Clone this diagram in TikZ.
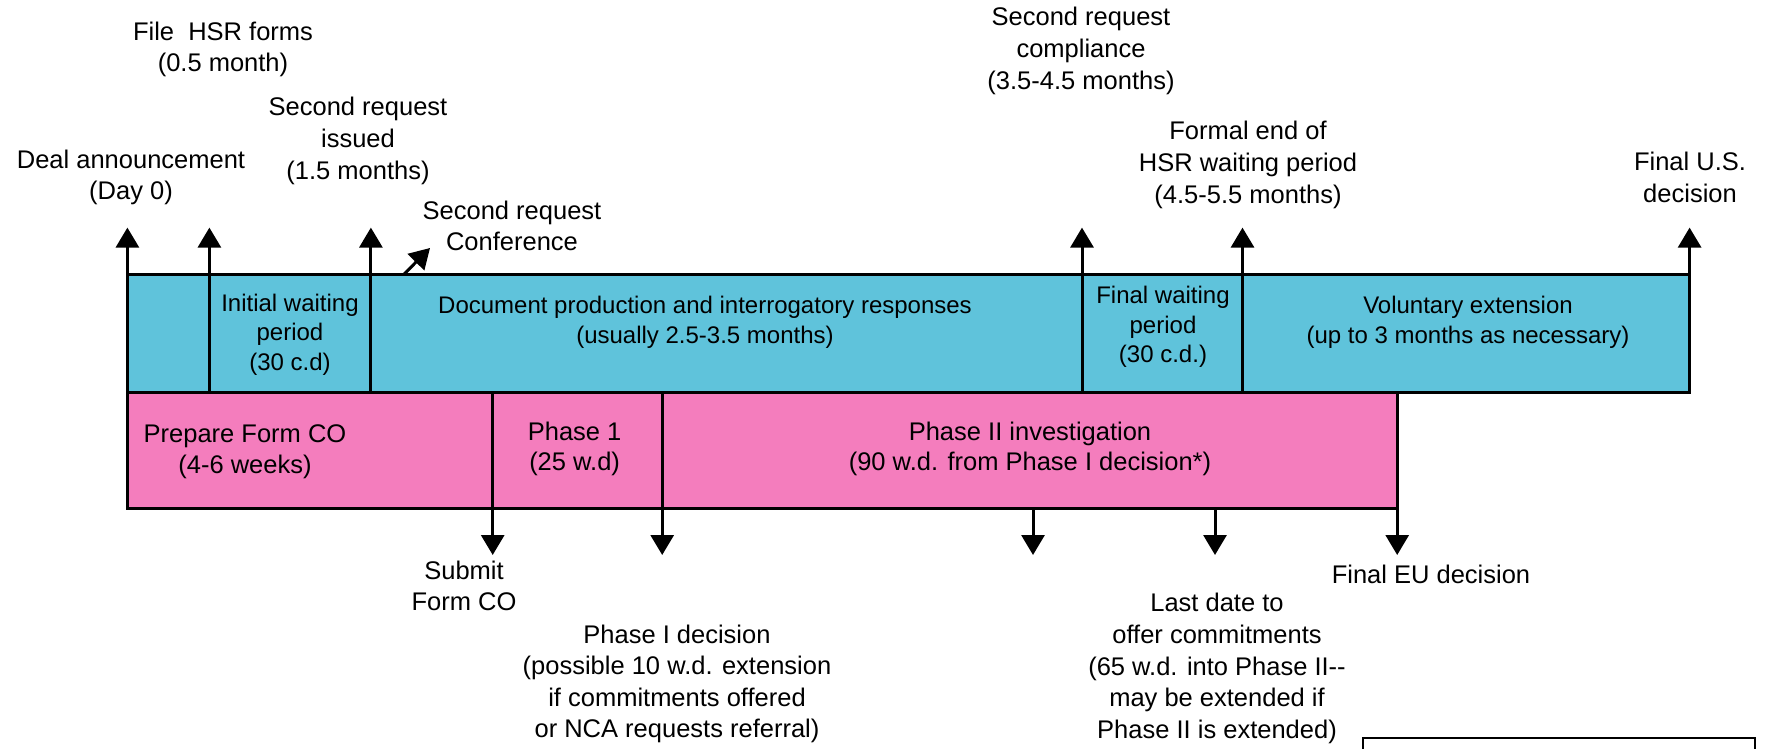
\documentclass[tikz,border=0pt]{standalone}
\usepackage{fontspec}
\setmainfont{Liberation Sans}
\usepackage{tikz}
\usetikzlibrary{arrows.meta,positioning,calc}

\definecolor{hsrblue}{RGB}{95,195,219}
\definecolor{ecpink}{RGB}{244,125,189}

\begin{document}
\begin{tikzpicture}[x=50pt, y=-50pt, >={Triangle[length=10pt,width=11.5pt]},
 edge/.style={line width=1.5pt},
 lbl/.style={align=center, inner sep=0pt, font=\fontsize{12.75}{15.8}\selectfont},
 cell/.style={align=center, inner sep=0pt, font=\fontsize{12}{14.8}\selectfont},
 pcell/.style={align=center, inner sep=0pt, font=\fontsize{12.75}{15.3}\selectfont}]
\useasboundingbox (0,0) rectangle (17.84,7.49);
% barres US et UE
\fill[hsrblue] (1.274,2.742) rectangle (16.896,3.925);
\fill[ecpink] (1.274,3.925) rectangle (13.972,5.086);
\draw[edge] (1.274,2.742) rectangle (16.896,3.925);
\draw[edge] (1.274,3.925) rectangle (13.972,5.086);
% jalons US (vers le haut)
\foreach \n/\x in {deal/1.274, file/2.094, issue/3.709, comply/10.82, formal/12.425, usdec/16.896} {
  \coordinate (\n) at (\x,2.742);
  \coordinate (\n-tip) at (\x,2.276);
  \draw[edge,->] (\n) -- (\n-tip);
}
\foreach \n in {file, issue, comply, formal}
  \draw[edge] (\n) -- (\n |- 0,3.925);
\coordinate (conf) at (4.04,2.742);
\coordinate (conf-tip) at (4.30,2.48);
\draw[edge,->] (conf) -- (conf-tip);
% jalons UE (vers le bas)
\foreach \n/\x in {submit/4.927, phone/6.622, mid/10.33, lastdate/12.15, eudec/13.972} {
  \coordinate (\n) at (\x,5.086);
  \coordinate (\n-tip) at (\x,5.55);
  \draw[edge,->] (\n) -- (\n-tip);
}
\foreach \n in {submit, phone}
  \draw[edge] (\n) -- (\n |- 0,3.925);
% etiquettes du haut
\node[lbl] (l-file) at (2.23,0.495) {File\ \ HSR forms\\(0.5 month)};
\node[lbl] (l-deal) at (1.31,1.775) {Deal announcement\\(Day 0)};
\node[lbl] (l-issue) at (3.58,1.41) {Second request\\issued\\(1.5 months)};
\node[lbl] (l-conf) at (5.12,2.26) {Second request\\Conference};
\node[lbl] (l-comply) at (10.81,0.51) {Second request\\compliance\\(3.5-4.5 months)};
\node[lbl] (l-formal) at (12.48,1.65) {Formal end of\\HSR waiting period\\(4.5-5.5 months)};
\node[lbl] (l-usdec) at (16.90,1.775) {Final U.S.\\decision};
% textes des barres
\node[cell] (c-init) at (2.90,3.345) {Initial waiting\\period\\(30 c.d)};
\node[cell] (c-doc) at (7.05,3.22) {Document production and interrogatory responses\\(usually 2.5-3.5 months)};
\node[cell] (c-finwait) at (11.63,3.27) {Final waiting\\period\\(30 c.d.)};
\node[cell] (c-volext) at (14.68,3.22) {Voluntary extension\\(up to 3 months as necessary)};
\node[pcell] (c-prep) at (2.45,4.52) {Prepare Form CO\\(4-6 weeks)};
\node[pcell] (c-ph1) at (5.746,4.49) {Phase 1\\(25 w.d)};
\node[pcell] (c-ph2) at (10.30,4.49) {Phase II investigation\\(90 w.d. from Phase I decision*)};
% etiquettes du bas
\node[lbl] (l-submit) at (4.64,5.86) {Submit\\Form CO};
\node[lbl] (l-phone) at (6.77,6.84) {Phase I decision\\(possible 10 w.d. extension\\if commitments offered\\or NCA requests referral)};
\node[lbl] (l-lastdate) at (12.17,6.685) {Last date to\\offer commitments\\(65 w.d. into Phase II-{}-\\may be extended if\\Phase II is extended)};
\node[lbl] (l-eudec) at (14.31,5.746) {Final EU decision};
% cadre coupe
\draw[line width=1pt] (13.63,7.49) |- (17.55,7.38) -- (17.55,7.49);
\end{tikzpicture}
\end{document}
